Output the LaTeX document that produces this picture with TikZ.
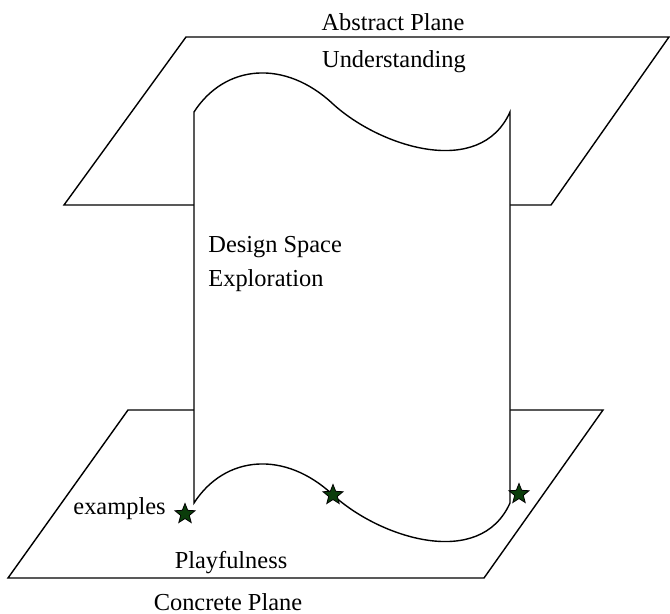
\documentclass[tikz,border=0pt]{standalone}
\usepackage{fontspec}
\setmainfont{Liberation Serif}
\usepackage{tikz}
\usetikzlibrary{positioning, shapes.geometric}
\definecolor{exgreen}{HTML}{0B3D0B}

\begin{document}
\begin{tikzpicture}[x=0.5pt, y=-0.5pt, font=\fontsize{12.2}{17}\selectfont,
        lbl/.style={inner sep=0pt},
        ex/.style={star, star points=5, star point ratio=2.3, draw=black, fill=exgreen, minimum size=10.5pt, inner sep=0pt, line width=0.4pt},
        ln/.style={line width=0.7pt, line join=miter}]
        \useasboundingbox (0,0) rectangle (670,614);
        % the two planes
        \draw[ln] (186,37) -- (669,37) -- (551,205) -- (64,205) -- cycle;
        \draw[ln] (128,410) -- (603,410) -- (484,578) -- (8,578) -- cycle;
        % the sheet between them
        \draw[ln, fill=white] (194,112) .. controls (225,64) and (285,59) .. (333,104)
            .. controls (380,147) and (480,179) .. (510,112) -- (510,503)
            .. controls (480,570) and (380,538) .. (333,495)
            .. controls (285,450) and (225,455) .. (194,503) -- cycle;
        \node[lbl] (abs) at (393,22) {Abstract Plane};
        \node[lbl] (und) at (394,62) {Understanding};
        \node[lbl, anchor=west, align=left] (dse) at (208,264) {Design Space\\Exploration};
        \node[ex] (s1) at (185,514) {};
        \node[ex] (s2) at (333,495) {};
        \node[ex] (s3) at (519,494) {};
        \node[lbl, anchor=east] (exs) at (166,509) {examples};
        \node[lbl] (play) at (231,563) {Playfulness};
        \node[lbl] (conc) at (228,602) {Concrete Plane};
      \end{tikzpicture}
\end{document}
